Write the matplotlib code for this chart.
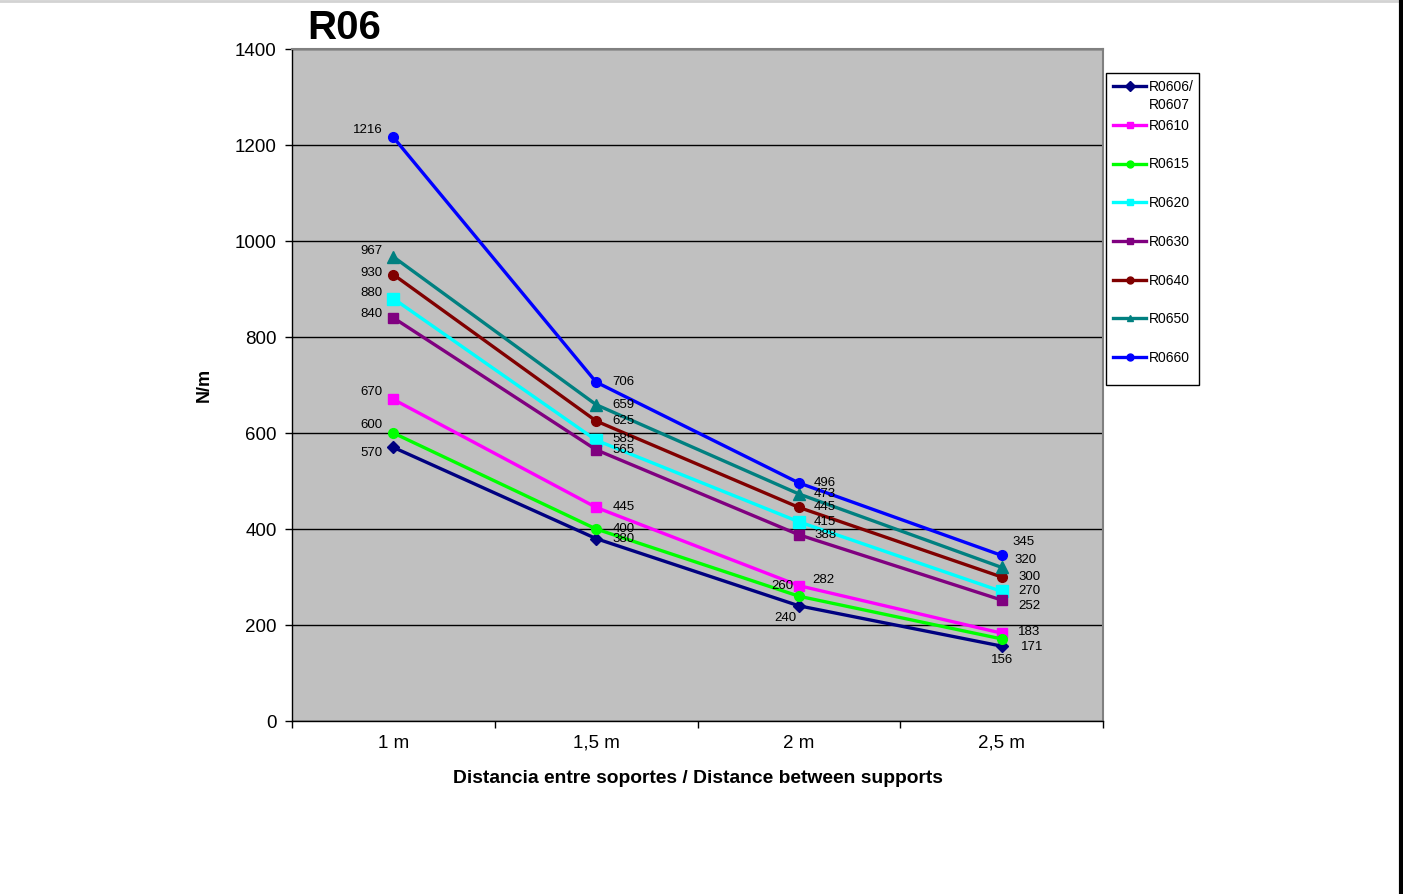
import matplotlib
matplotlib.use('Agg')
import matplotlib.pyplot as plt
from matplotlib.lines import Line2D
from matplotlib.patches import Rectangle
import numpy as np

plt.rcParams['font.family'] = ['Liberation Sans', 'DejaVu Sans']

# data
distances = ['1 m', '1,5 m', '2 m', '2,5 m']
series_names = ['R0606/', 'R0610', 'R0615', 'R0620', 'R0630', 'R0640', 'R0650', 'R0660']
r0606 = [570, 380, 240, 156]
r0610 = [670, 445, 282, 183]
r0615 = [600, 400, 260, 171]
r0620 = [880, 585, 415, 270]
r0630 = [840, 565, 388, 252]
r0640 = [930, 625, 445, 300]
r0650 = [967, 659, 473, 320]
r0660 = [1216, 706, 496, 345]
all_values = [r0606, r0610, r0615, r0620, r0630, r0640, r0650, r0660]

# styles
colors = ['#000080', '#FF00FF', '#00FF00', '#00FFFF', '#800080', '#800000', '#008080', '#0000FF']
markers = ['D', 's', 'o', 's', 's', 'o', '^', 'o']
msizes = [6, 7, 7, 8, 7, 7, 8, 7]

# label offsets in points (dx, dy, ha) per series per point
offsets = [
    [(-8, -4, 'right'), (12, 0, 'left'), (-10, -9, 'center'), (0, -10, 'center')],
    [(-8, 5, 'right'), (12, 0, 'left'), (10, 4, 'left'), (12, 1, 'left')],
    [(-8, 6, 'right'), (12, 0, 'left'), (-4, 7, 'right'), (14, -6, 'left')],
    [(-8, 4, 'right'), (12, 1, 'left'), (11, 0, 'left'), (12, 0, 'left')],
    [(-8, 3, 'right'), (12, 0, 'left'), (11, 0, 'left'), (12, -4, 'left')],
    [(-8, 1, 'right'), (12, 0, 'left'), (11, 0, 'left'), (12, 0, 'left')],
    [(-8, 4, 'right'), (12, 0, 'left'), (11, 0, 'left'), (9, 5, 'left')],
    [(-8, 5, 'right'), (12, 0, 'left'), (11, 0, 'left'), (8, 10, 'left')],
]

fig = plt.figure(figsize=(14.03, 8.94), dpi=100)
ax = fig.add_axes([292 / 1403, 1 - 721 / 894, 811 / 1403, 672 / 894])
ax.set_facecolor('#C0C0C0')

x = np.arange(len(distances))
handles = []
for vals, name, c, m, ms, offs in zip(all_values, series_names, colors, markers, msizes, offsets):
    h, = ax.plot(x, vals, color=c, lw=2.4, marker=m, markersize=ms,
                 markeredgecolor=c, label=name, zorder=3)
    handles.append(h)
    for xi, v, (dx, dy, ha) in zip(x, vals, offs):
        ax.annotate(str(v), (xi, v), xytext=(dx, dy), textcoords='offset points',
                    ha=ha, va='center', fontsize=9.5, color='black', zorder=4)

ax.set_xlim(-0.5, 3.5)
ax.set_ylim(0, 1400)
ax.set_yticks(np.arange(0, 1401, 200))
ax.yaxis.grid(True, color='black', lw=1)
ax.set_axisbelow(True)
ax.tick_params(axis='y', labelsize=13.5, length=5, width=1, direction='out', pad=6)

ax.set_xticks([-0.5, 0.5, 1.5, 2.5, 3.5])
ax.set_xticklabels([])
ax.set_xticks(x, minor=True)
ax.set_xticklabels(distances, minor=True)
ax.tick_params(axis='x', which='major', length=5, width=1, direction='out')
ax.tick_params(axis='x', which='minor', length=0, labelsize=13.5, pad=10)

for s in ['top', 'right']:
    ax.spines[s].set_color('#808080')
    ax.spines[s].set_linewidth(1.5)
for s in ['left', 'bottom']:
    ax.spines[s].set_color('black')
    ax.spines[s].set_linewidth(1)

ax.set_xlabel('Distancia entre soportes / Distance between supports',
              fontsize=13.9, fontweight='bold', labelpad=13)
ax.set_ylabel('N/m', fontsize=13, fontweight='bold', labelpad=16)

fig.text(307 / 1403, 1 - 28 / 894, 'R06', fontsize=29, fontweight='bold',
         ha='left', va='center')

# legend box drawn separately (extra room at the bottom like the original)
fig.add_artist(Rectangle((1106 / 1403, 1 - 385 / 894), 93 / 1403, 312 / 894,
                         transform=fig.transFigure, facecolor='white',
                         edgecolor='black', lw=1, zorder=4))
leg = fig.legend(handles=handles, loc='upper left',
                 bbox_to_anchor=(1106 / 1403, 1 - 73 / 894),
                 frameon=False, fontsize=10, handlelength=2.4, handletextpad=0.2,
                 labelspacing=1.78, borderpad=0.5, borderaxespad=0)
leg.set_zorder(5)
for lh in leg.legend_handles:
    lh.set_markersize(5)

# second line of first legend label
fig.canvas.draw()
bb = leg.get_texts()[0].get_window_extent()
fig.text(bb.x0 / 1403, (bb.y0 - 4) / 894, 'R0607', fontsize=10, ha='left', va='top',
         zorder=10)

# page edges
fig.add_artist(Line2D([0, 1398 / 1403], [1 - 1 / 894, 1 - 1 / 894], color='#D3D3D3', lw=2))
fig.add_artist(Line2D([1401 / 1403, 1401 / 1403], [0, 1], color='black', lw=3))

fig.savefig('out.png', dpi=100)
